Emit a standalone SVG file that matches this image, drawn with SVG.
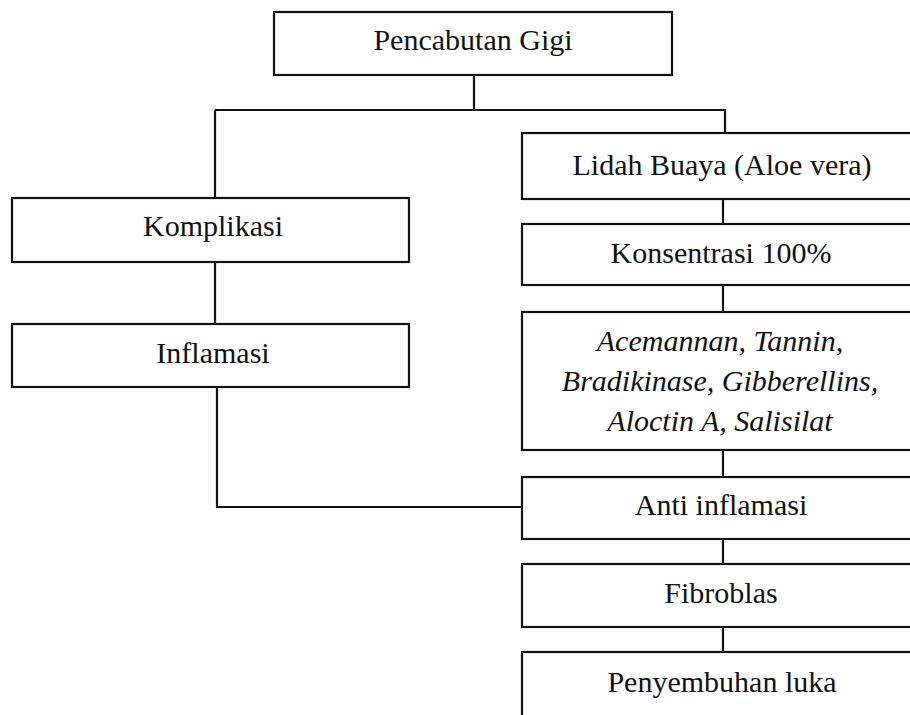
<svg xmlns="http://www.w3.org/2000/svg" width="910" height="715" viewBox="0 0 910 715">
<style>
.box{fill:#fff;stroke:#111;stroke-width:2.2}
.t{font-family:"Liberation Serif","Times New Roman",serif;font-size:30px;fill:#111;text-anchor:middle}
.i{font-style:italic}
.c{fill:none;stroke:#111;stroke-width:2.2}
</style>
<rect width="910" height="715" fill="#fff"/>
<g id="connectors">
<path class="c" d="M474,75 V110"/>
<path class="c" d="M215,110 H725 V133"/>
<path class="c" d="M215,110 V198"/>
<path class="c" d="M215,262 V324"/>
<path class="c" d="M217,387 V507 H522"/>
<path class="c" d="M723,199 V224"/>
<path class="c" d="M723,285 V312"/>
<path class="c" d="M723,450 V477"/>
<path class="c" d="M723,539 V564"/>
<path class="c" d="M723,627 V652"/>
</g>
<g id="pencabutan">
<rect class="box" x="274" y="12" width="398" height="63"/>
<text class="t" x="473" y="50">Pencabutan Gigi</text>
</g>
<g id="komplikasi">
<rect class="box" x="12" y="198" width="397" height="64"/>
<text class="t" x="213" y="236">Komplikasi</text>
</g>
<g id="inflamasi">
<rect class="box" x="12" y="324" width="397" height="63"/>
<text class="t" x="213" y="363">Inflamasi</text>
</g>
<g id="lidah">
<rect class="box" x="522" y="133" width="400" height="66"/>
<text class="t" x="722" y="175">Lidah Buaya (Aloe vera)</text>
</g>
<g id="konsentrasi">
<rect class="box" x="522" y="224" width="400" height="61"/>
<text class="t" x="721" y="263">Konsentrasi 100%</text>
</g>
<g id="senyawa">
<rect class="box" x="522" y="312" width="400" height="138"/>
<text class="t i" x="720" y="351">Acemannan, Tannin,</text>
<text class="t i" x="720" y="391">Bradikinase, Gibberellins,</text>
<text class="t i" x="720" y="431">Aloctin A, Salisilat</text>
</g>
<g id="anti">
<rect class="box" x="522" y="477" width="400" height="62"/>
<text class="t" x="721" y="515">Anti inflamasi</text>
</g>
<g id="fibroblas">
<rect class="box" x="522" y="564" width="400" height="63"/>
<text class="t" x="721" y="603">Fibroblas</text>
</g>
<g id="penyembuhan">
<rect class="box" x="522" y="652" width="400" height="100"/>
<text class="t" x="722" y="692">Penyembuhan luka</text>
</g>
</svg>
